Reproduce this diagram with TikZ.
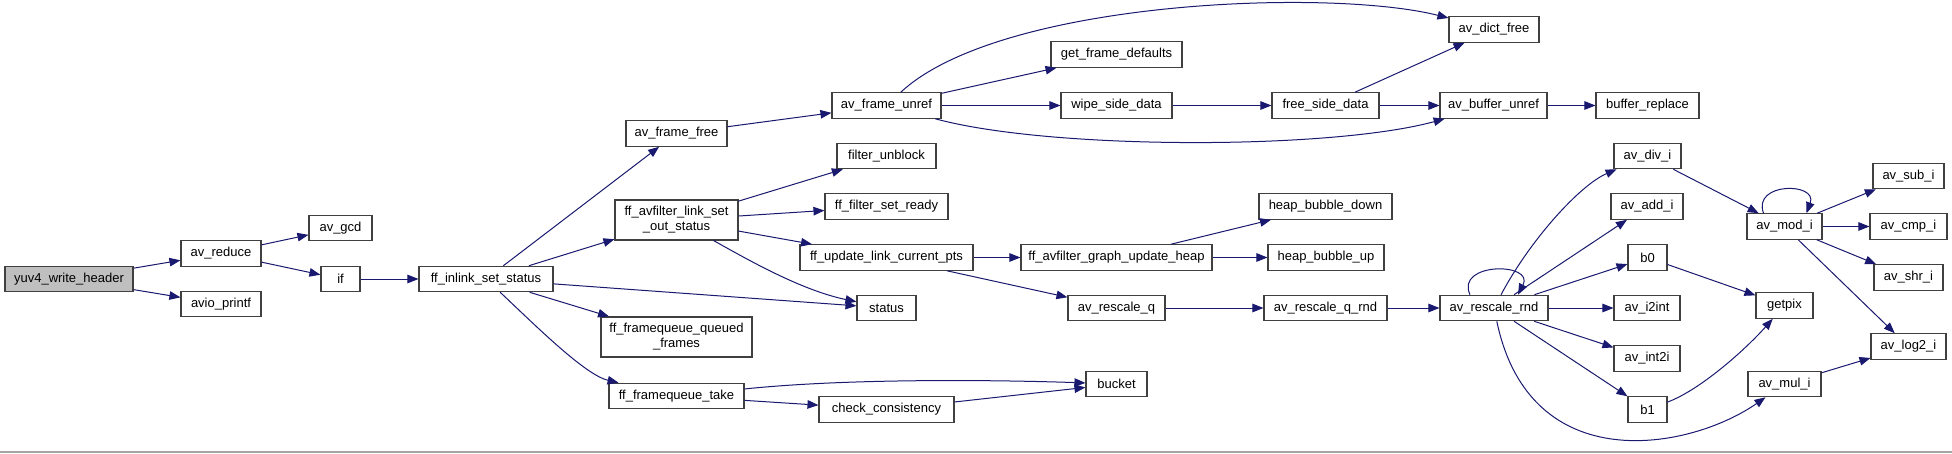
\documentclass[tikz,border=0pt]{standalone}
\usepackage{fontspec}
\setmainfont{Liberation Sans}
\usetikzlibrary{arrows.meta}
\definecolor{edgeblue}{HTML}{191970}
\tikzset{
  fn/.style={draw=black!75, fill=white, line width=1.1pt, minimum height=25.5pt,
    inner sep=2pt, align=center, font=\fontsize{13}{15}\selectfont},
  root/.style={fn, fill=black!25},
  call/.style={->, draw=edgeblue, line width=1pt},
}
\begin{document}
\begin{tikzpicture}[x=1pt, y=-1pt, >={Triangle[length=11pt,width=8.5pt]}]
\useasboundingbox (0,0) rectangle (1952,453);
\fill[white] (0,0) rectangle (1952,453);
\draw[black!35, line width=1.5pt] (0,452) -- (1952,452);

\node[root, minimum width=128pt] (yuv4) at (69,279) {yuv4\_write\_header};
\node[fn, minimum width=80pt] (reduce) at (221,253.5) {av\_reduce};
\node[fn, minimum width=80pt] (printf) at (221,304) {avio\_printf};
\node[fn, minimum width=63pt] (gcd) at (340.5,228) {av\_gcd};
\node[fn, minimum width=39pt] (cond) at (340.5,279) {if};
\node[fn, minimum width=134pt] (inlink) at (486,279) {ff\_inlink\_set\_status};

\node[fn, minimum width=101pt] (framefree) at (676.5,133.5) {av\_frame\_free};
\node[fn, minimum width=123pt, minimum height=40pt] (outstatus) at (676.5,220) {ff\_avfilter\_link\_set\\\_out\_status};
\node[fn, minimum width=151pt, minimum height=40pt] (queued) at (676.5,337) {ff\_framequeue\_queued\\\_frames};
\node[fn, minimum width=135pt] (take) at (676.5,396) {ff\_framequeue\_take};

\node[fn, minimum width=109pt] (unref) at (886.5,105.5) {av\_frame\_unref};
\node[fn, minimum width=99pt] (unblock) at (886.5,156) {filter\_unblock};
\node[fn, minimum width=123pt] (ready) at (886.5,206.5) {ff\_filter\_set\_ready};
\node[fn, minimum width=173pt] (updpts) at (886.5,257.5) {ff\_update\_link\_current\_pts};
\node[fn, minimum width=59pt] (status) at (886.5,308) {status};
\node[fn, minimum width=135pt] (consist) at (886.5,409.5) {check\_consistency};

\node[fn, minimum width=131pt] (defaults) at (1116.5,54.5) {get\_frame\_defaults};
\node[fn, minimum width=111pt] (wipe) at (1116.5,105.5) {wipe\_side\_data};
\node[fn, minimum width=191pt] (heap) at (1116.5,257.5) {ff\_avfilter\_graph\_update\_heap};
\node[fn, minimum width=97pt] (rescq) at (1116.5,308) {av\_rescale\_q};
\node[fn, minimum width=61pt] (bucket) at (1116.5,384) {bucket};

\node[fn, minimum width=107pt] (freeside) at (1325.5,105.5) {free\_side\_data};
\node[fn, minimum width=133pt] (bdown) at (1325.5,206.5) {heap\_bubble\_down};
\node[fn, minimum width=116pt] (bup) at (1326,257.5) {heap\_bubble\_up};
\node[fn, minimum width=123pt] (rescqrnd) at (1325.5,308) {av\_rescale\_q\_rnd};

\node[fn, minimum width=90pt] (dict) at (1494,29.5) {av\_dict\_free};
\node[fn, minimum width=107pt] (bufunref) at (1493.5,105.5) {av\_buffer\_unref};
\node[fn, minimum width=108pt] (rescrnd) at (1494,308) {av\_rescale\_rnd};

\node[fn, minimum width=103pt] (replace) at (1647.5,105.5) {buffer\_replace};
\node[fn, minimum width=67pt] (div) at (1647.5,156) {av\_div\_i};
\node[fn, minimum width=72pt] (add) at (1647,206.5) {av\_add\_i};
\node[fn, minimum width=39pt] (bzero) at (1647.5,257.5) {b0};
\node[fn, minimum width=66pt] (i2int) at (1647,308) {av\_i2int};
\node[fn, minimum width=66pt] (int2i) at (1647,358.5) {av\_int2i};
\node[fn, minimum width=39pt] (bone) at (1647.5,409.5) {b1};

\node[fn, minimum width=75pt] (mod) at (1784.5,226.5) {av\_mod\_i};
\node[fn, minimum width=57pt] (getpix) at (1784.5,305.5) {getpix};
\node[fn, minimum width=73pt] (mul) at (1784.5,384) {av\_mul\_i};

\node[fn, minimum width=71pt] (sub) at (1908.5,176) {av\_sub\_i};
\node[fn, minimum width=77pt] (cmp) at (1908.5,226.5) {av\_cmp\_i};
\node[fn, minimum width=69pt] (shr) at (1908.5,277.5) {av\_shr\_i};
\node[fn, minimum width=75pt] (log) at (1908.5,346.5) {av\_log2\_i};

% calls
\foreach \t in {reduce,printf} \draw[call] (yuv4) -- (\t);
\foreach \t in {gcd,cond} \draw[call] (reduce) -- (\t);
\draw[call] (cond) -- (inlink);
\foreach \t in {framefree,outstatus,status,queued} \draw[call] (inlink) -- (\t);
\draw[call] (inlink) .. controls (535,325) and (585,375) .. (take);
\foreach \t in {unblock,ready,updpts} \draw[call] (outstatus) -- (\t);
\draw[call] (outstatus) .. controls (745,258) and (800,290) .. (status);
\draw[call] (take) .. controls (850,378) and (1000,380) .. (bucket);
\draw[call] (take) -- (consist);
\draw[call] (consist) -- (bucket);

\draw[call] (framefree) -- (unref);
\draw[call] (unref) .. controls (1000,0) and (1330,-12) .. (dict);
\foreach \t in {defaults,wipe} \draw[call] (unref) -- (\t);
\draw[call] (unref) .. controls (1050,150) and (1330,150) .. (bufunref);
\draw[call] (wipe) -- (freeside);
\foreach \t in {dict,bufunref} \draw[call] (freeside) -- (\t);
\draw[call] (bufunref) -- (replace);

\foreach \t in {heap,rescq} \draw[call] (updpts) -- (\t);
\foreach \t in {bdown,bup} \draw[call] (heap) -- (\t);
\draw[call] (rescq) -- (rescqrnd);
\draw[call] (rescqrnd) -- (rescrnd);

% av_rescale_rnd and its callees
\draw[call] ([xshift=-24pt]rescrnd.north) .. controls (1455,262) and (1535,262) .. ([xshift=24pt]rescrnd.north);
\draw[call] (rescrnd) .. controls (1530,240) and (1580,185) .. (div);
\foreach \t in {add,bzero,i2int,int2i,bone} \draw[call] (rescrnd) -- (\t);
\draw[call] (rescrnd) .. controls (1530,480) and (1690,450) .. (mul);
\draw[call] (div) -- (mod);
\draw[call] ([xshift=-21pt]mod.north) .. controls (1752,182) and (1818,182) .. ([xshift=22pt]mod.north);
\foreach \t in {sub,cmp,shr,log} \draw[call] (mod) -- (\t);
\draw[call] (bzero) -- (getpix);
\draw[call] (bone) .. controls (1700,390) and (1745,350) .. (getpix);
\draw[call] (mul) -- (log);

\end{tikzpicture}
\end{document}
